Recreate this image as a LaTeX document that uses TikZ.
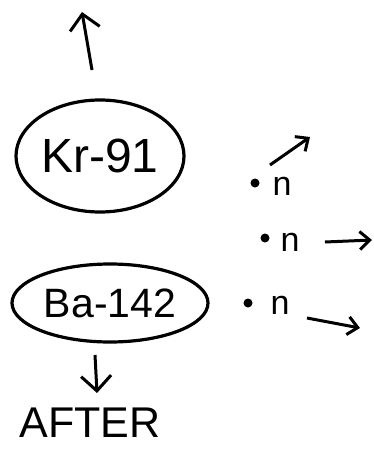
\documentclass[tikz,border=0pt]{standalone}
\usepackage{fontspec}
\setmainfont{Liberation Sans}
\usetikzlibrary{shapes.geometric,arrows.meta}
\begin{document}
\begin{tikzpicture}[x=1pt,y=-1pt,
  nucleus/.style={draw,ellipse,line width=3.2pt,inner sep=0pt},
  bigarr/.style={line width=3pt,-{Straight Barb[length=15pt,width=30pt,line width=3pt]}},
  arr/.style={line width=3pt,-{Straight Barb[length=10pt,width=18pt,line width=3pt]}},
  dotn/.style={circle,fill,inner sep=0pt,minimum size=9pt},
  nlab/.style={font=\fontsize{34}{34}\selectfont,inner sep=0pt}]
\useasboundingbox (0,0) rectangle (373,450);
% nuclei
\node[nucleus,minimum width=168pt,minimum height=112pt,font=\fontsize{48}{48}\selectfont] (kr) at (100,156) {Kr-91};
\node[nucleus,minimum width=196pt,minimum height=78pt,font=\fontsize{41}{41}\selectfont] (ba) at (110,303) {Ba-142};
% up arrow
\coordinate (ups) at (92,70);
\coordinate (upe) at (82,12);
\draw[bigarr] (ups) -- (upe);
% down arrow
\coordinate (dns) at (95,355);
\coordinate (dne) at (97,393);
\draw[bigarr] (dns) -- (dne);
\node[font=\fontsize{43}{43}\selectfont,inner sep=0pt] (after) at (90,423) {AFTER};
% neutrons
\node[dotn] (d1) at (255,183) {};
\node[nlab] (n1) at (282,186) {n};
\coordinate (a1s) at (270,165);
\coordinate (a1e) at (310,137);
\draw[arr] (a1s) -- (a1e);
\node[dotn] (d2) at (265,238) {};
\node[nlab] (n2) at (290,242) {n};
\coordinate (a2s) at (325,242);
\coordinate (a2e) at (372,240);
\draw[arr] (a2s) -- (a2e);
\node[dotn] (d3) at (248,303) {};
\node[nlab] (n3) at (280,305) {n};
\coordinate (a3s) at (307,318);
\coordinate (a3e) at (360,328);
\draw[arr] (a3s) -- (a3e);
\end{tikzpicture}
\end{document}
